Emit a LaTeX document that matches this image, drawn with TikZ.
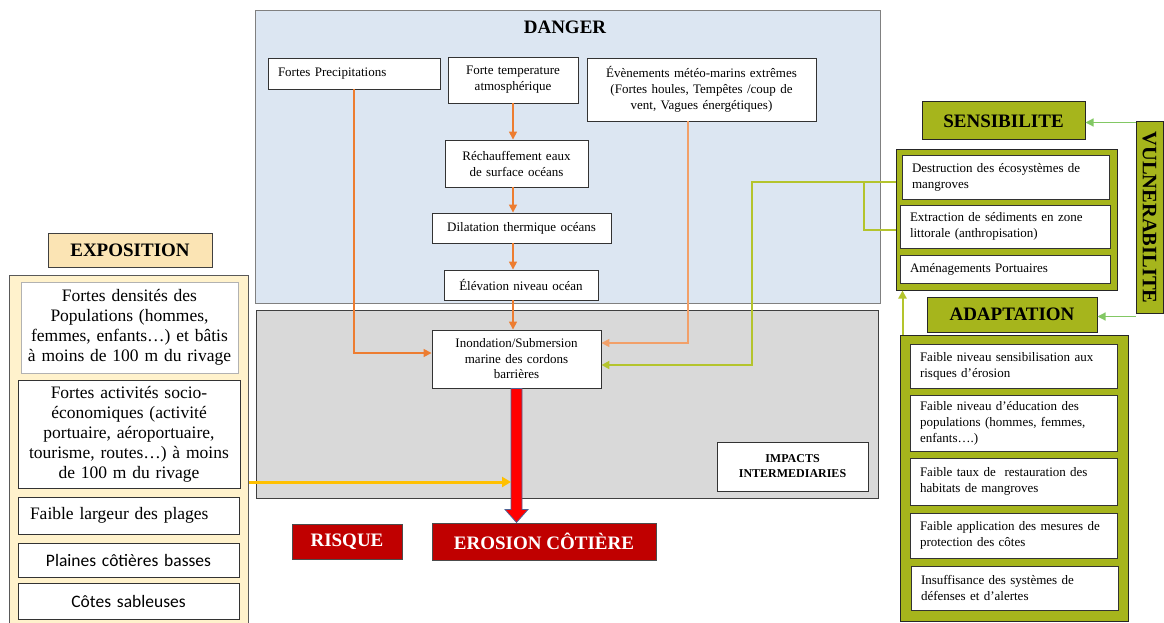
\documentclass[tikz,border=0pt]{standalone}
\usepackage{fontspec}
\setmainfont{Liberation Serif}
\newfontfamily\calfont{Carlito}
\usetikzlibrary{arrows.meta}

\definecolor{dangerblue}{RGB}{220,230,242}
\definecolor{impactgray}{RGB}{217,217,217}
\definecolor{expofill}{RGB}{255,242,204}
\definecolor{expotitle}{RGB}{251,228,180}
\definecolor{olivefill}{RGB}{166,181,28}
\definecolor{oliveline}{RGB}{180,196,45}
\definecolor{vulngreen}{RGB}{130,200,100}
\definecolor{dorange}{RGB}{237,125,49}
\definecolor{lorange}{RGB}{242,160,105}
\definecolor{riskred}{RGB}{192,0,0}
\definecolor{arrowblue}{RGB}{79,100,150}
\definecolor{expoyellow}{RGB}{255,192,0}

\newcommand\fntbox{\fontsize{13}{16}\selectfont}
\newcommand\fntexpo{\fontsize{17.5}{20}\selectfont}
\newcommand\fnttitle{\fontsize{19}{22}\selectfont\bfseries}

\tikzset{
  txtbox/.style={draw=black!80, fill=white, line width=0.9pt, inner ysep=2pt, inner xsep=4pt, align=center, font=\fntbox},
  lbox/.style={txtbox, align=left, inner xsep=10pt},
  olivebox/.style={draw=black!85, fill=olivefill, line width=1pt},
  orangeline/.style={draw=dorange, line width=1.6pt, -{Triangle[length=8pt,width=8pt]}},
  greenline/.style={draw=oliveline, line width=2.5pt},
  vulnline/.style={draw=vulngreen, line width=1.2pt, -{Triangle[length=8pt,width=8pt]}},
  yellowline/.style={draw=expoyellow, line width=3pt, -{Triangle[length=9pt,width=10pt]}},
  riskbox/.style={draw=black!70, fill=riskred, text=white, font=\fnttitle, line width=0.8pt}
}

\begin{document}
\begin{tikzpicture}[x=1pt, y=-1pt]
\useasboundingbox (0,0) rectangle (1164,623);

% danger
\node[draw=black!50, fill=dangerblue, line width=1pt, minimum width=625, minimum height=292] (danger) at (567.5,157) {};
\node[font=\fnttitle] (dangerT) at (565,27) {DANGER};
\node[draw=black!75, fill=impactgray, line width=1pt, minimum width=622, minimum height=188] (impacts) at (567,404) {};

\node[lbox, minimum height=31, text width=152] (precip) at (354,73.5) {Fortes Precipitations};
\node[txtbox, minimum height=46, text width=122] (temp) at (513,80) {Forte temperature\\atmosphérique};
\node[txtbox, minimum height=63, text width=221] (events) at (701.5,89.5) {Évènements météo-marins extrêmes\\(Fortes houles, Tempêtes /coup de\\vent, Vagues énergétiques)};
\node[txtbox, minimum height=47, text width=135] (rech) at (516.5,163.5) {Réchauffement eaux\\de surface océans};
\node[txtbox, minimum height=30, text width=171] (dilat) at (521.5,228) {Dilatation thermique océans};
\node[txtbox, minimum height=30, text width=146] (elev) at (521,285) {Élévation niveau océan};

\node[txtbox, minimum height=58, text width=161, font=\fontsize{13}{15.5}\selectfont] (inond) at (516.5,359) {Inondation/Submersion\\marine des cordons\\barrières};
\node[txtbox, minimum height=49, text width=143, font=\fontsize{12}{15}\selectfont\bfseries] (impInt) at (792.5,466.5) {IMPACTS\\INTERMEDIARIES};

% exposition
\node[draw=black!65, fill=expofill, line width=1pt, minimum width=239, minimum height=354] (expo) at (128.5,452) {};
\node[draw=black!75, fill=expotitle, line width=1pt, minimum width=164, minimum height=34, font=\fnttitle] (expoT) at (130,250) {EXPOSITION};
\node[txtbox, draw=black!30, minimum height=91, text width=209, font=\fntexpo] (dens) at (129.5,327.5) {Fortes densités des\\Populations (hommes,\\femmes, enfants…) et bâtis\\à moins de 100 m du rivage};
\node[txtbox, minimum height=108, text width=214, font=\fntexpo] (activ) at (129,434) {Fortes activités socio-\\économiques (activité\\portuaire, aéroportuaire,\\tourisme, routes…) à moins\\de 100 m du rivage};
\node[lbox, inner xsep=12pt, minimum height=37, text width=197, font=\fntexpo] (plage) at (128.5,515.5) {Faible largeur des plages};
\node[txtbox, minimum height=34, text width=213, font=\calfont\fntexpo] (plaine) at (128.5,560) {Plaines côtières basses};
\node[txtbox, minimum height=36, text width=213, font=\calfont\fntexpo] (cote) at (128.5,601) {Côtes sableuses};

% vulnerabilite
\node[olivebox, minimum width=27, minimum height=191, inner sep=0pt, font=\fontsize{20.5}{22}\selectfont\bfseries] (vuln) at (1149.5,217.5) {\rotatebox{-90}{VULNERABILITE}};
\node[olivebox, minimum width=163, minimum height=38, font=\fnttitle] (sensT) at (1003.5,121) {SENSIBILITE};
\node[olivebox, minimum width=221, minimum height=141] (sens) at (1006.5,219.5) {};
\node[lbox, minimum height=44, text width=187] (destr) at (1005.5,177) {Destruction des écosystèmes de\\mangroves};
\node[lbox, minimum height=43, text width=190] (extr) at (1005,226.5) {Extraction de sédiments en zone\\littorale (anthropisation)};
\node[lbox, minimum height=28, text width=190] (amen) at (1005,269) {Aménagements Portuaires};

\node[olivebox, minimum width=170, minimum height=35, font=\fnttitle] (adaptT) at (1012,314.5) {ADAPTATION};
\node[olivebox, minimum width=228, minimum height=286] (adapt) at (1014,478) {};
\node[lbox, minimum height=44, text width=187] (adA) at (1013.5,366) {Faible niveau sensibilisation aux\\risques d’érosion};
\node[lbox, minimum height=56, text width=187] (adB) at (1013.5,423) {Faible niveau d’éducation des\\populations (hommes, femmes,\\enfants….)};
\node[lbox, minimum height=47, text width=187] (adC) at (1013.5,481.5) {Faible taux de\ \ restauration des\\habitats de mangroves};
\node[lbox, minimum height=45, text width=187] (adD) at (1013.5,535.5) {Faible application des mesures de\\protection des côtes};
\node[lbox, minimum height=44, text width=187] (adE) at (1014.5,588) {Insuffisance des systèmes de\\défenses et d’alertes};

% risque
\node[riskbox, minimum width=110, minimum height=35] (risque) at (347,541.5) {RISQUE};
\node[riskbox, minimum width=224, minimum height=37] (erosion) at (544,541.5) {EROSION CÔTIÈRE};

% liens
\draw[orangeline] (temp.south) -- (temp.south |- rech.north);
\draw[orangeline] (temp.south |- rech.south) -- (temp.south |- dilat.north);
\draw[orangeline] (temp.south |- dilat.south) -- (temp.south |- elev.north);
\draw[orangeline] (temp.south |- elev.south) -- (temp.south |- inond.north);
\draw[orangeline] (precip.south) |- ([yshift=6pt]inond.west);
\draw[orangeline, draw=lorange] ([xshift=-13.5pt]events.south) |- ([yshift=16pt]inond.east);

\coordinate (gA) at (896,182);
\coordinate (gB) at (896,230);
\draw[greenline, -{Triangle[length=8pt,width=8pt]}] (gA) -- ++(-144,0) |- ([yshift=-6pt]inond.east);
\draw[greenline] ([xshift=-32pt]gA) |- (gB);

\coordinate (aU) at ([xshift=3pt]adapt.north west);
\draw[greenline, line width=2pt, -{Triangle[length=8pt,width=8pt]}] (aU) -- (aU |- sens.south);

\coordinate (vA) at ([yshift=-1pt]vuln.north west);
\coordinate (vB) at ([yshift=-3pt]vuln.south west);
\draw[vulnline] (vA) -- (sensT.east |- vA);
\draw[vulnline] (vB) -- (adaptT.east |- vB);

\coordinate (rA) at ([xshift=-5.5pt]inond.south);
\draw[draw=arrowblue, fill=red, line width=0.8pt] (rA) -- ++(0,121) -- ++(-6,0) -- ++(11.5,13) -- ++(11.5,-13) -- ++(-6,0) -- ++(0,-121) -- cycle;

\coordinate (yA) at ([yshift=-30pt]expo.east);
\draw[yellowline] (yA) -- (rA |- yA);
\end{tikzpicture}
\end{document}
